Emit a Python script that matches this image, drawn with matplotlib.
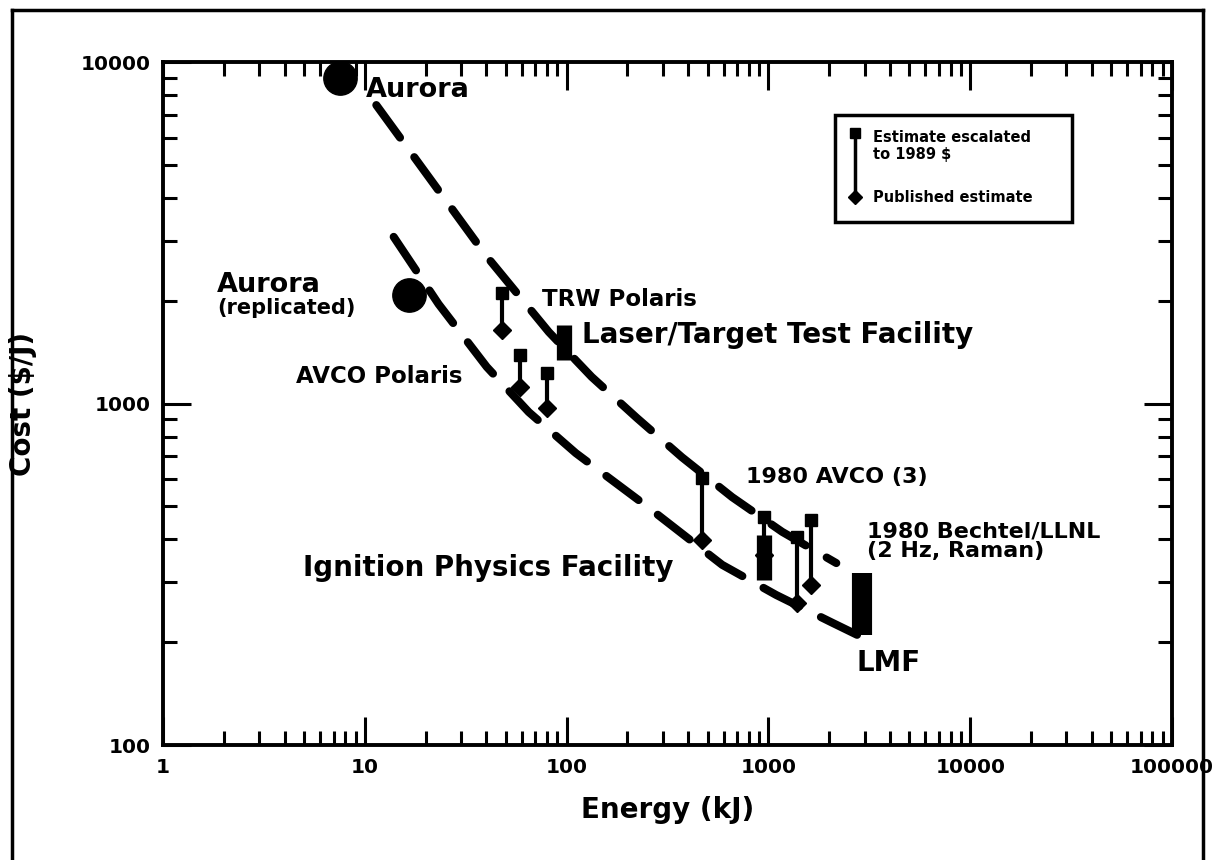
import numpy as np
import matplotlib
matplotlib.use("Agg")
import matplotlib.pyplot as plt
from matplotlib.patches import Rectangle
from matplotlib.lines import Line2D

# dashed trend curves (energy kJ, cost $/J)
upper_x = [11.4, 39.7, 81.6, 133, 223, 373, 661, 1170, 2170]
upper_y = [7480, 2720, 1620, 1197, 907, 696, 532, 421, 341]
lower_x = [13.9, 23.2, 40.2, 64.9, 111, 250, 590, 1093, 2075, 2760]
lower_y = [3076, 1955, 1280, 944, 716, 500, 337, 275, 228, 210]

# Aurora points
aurora_x = [7.5, 16.5]
aurora_y = [9000, 2080]

# cost estimates: escalated (top) and published (bottom)
est_x = [48, 58.6, 79.7, 469, 953, 1390, 1633]
est_hi = [2107, 1387, 1228, 605, 466, 406, 456]
est_lo = [1640, 1117, 970, 398, 360, 261, 295]

# facilities: LTTF, IPF, LMF
fac_x = [97, 953, 2920]
fac_lo = [1340, 305, 210]
fac_hi = [1700, 412, 319]

x_ticks = [1, 10, 100, 1000, 10000, 100000]
y_ticks = [100, 1000, 10000]

plt.rcParams["font.family"] = ["DejaVu Sans"]
plt.rcParams["font.weight"] = "bold"

fig = plt.figure(figsize=(12.13, 8.6), dpi=100)
ax = fig.add_axes([0.1344, 0.1337, 0.8318, 0.7942])
ax.set_xscale("log")
ax.set_yscale("log")
ax.set_xlim(1, 100000)
ax.set_ylim(100, 10000)

lw = 5.8
for xs, ys in [(upper_x, upper_y), (lower_x, lower_y)]:
    ax.plot(xs, ys, color="black", lw=lw, dashes=(5.0, 3.0),
            solid_capstyle="butt", dash_capstyle="round")

ax.plot(aurora_x, aurora_y, "o", color="black", ms=24, zorder=5)

for x, hi, lo in zip(est_x, est_hi, est_lo):
    ax.plot([x, x], [lo, hi], color="black", lw=3, zorder=4)
    ax.plot(x, hi, "s", color="black", ms=8, zorder=4)
    ax.plot(x, lo, "D", color="black", ms=9, zorder=4)

for x, lo, hi, w in zip(fac_x, fac_lo, fac_hi, [11, 11, 14.5]):
    ax.plot([x, x], [lo, hi], color="black", lw=w, solid_capstyle="butt", zorder=6)

tk = dict(ha="left", va="center", fontweight="bold")
ax.text(10.1, 8280, "Aurora", fontsize=19.5, **tk)
ax.text(1.85, 2223, "Aurora", fontsize=19.5, **tk)
ax.text(1.85, 1905, "(replicated)", fontsize=15, **tk)
ax.text(75.3, 2010, "TRW Polaris", fontsize=16.5, **tk)
ax.text(119, 1587, "Laser/Target Test Facility", fontsize=20, **tk)
ax.text(4.57, 1196, "AVCO Polaris", fontsize=16.5, **tk)
ax.text(776, 609, "1980 AVCO (3)", fontsize=16, **tk)
ax.text(3097, 396, "1980 Bechtel/LLNL\n(2 Hz, Raman)", fontsize=16,
        linespacing=0.95, **tk)
ax.text(4.96, 330, "Ignition Physics Facility", fontsize=20, **tk)
ax.text(2729, 174, "LMF", fontsize=20, **tk)

# legend box
ax.add_patch(Rectangle((0.666, 0.766), 0.235, 0.156, transform=ax.transAxes,
                       fill=False, lw=2.5, ec="black", zorder=7))
ax.add_line(Line2D([0.686, 0.686], [0.802, 0.896], transform=ax.transAxes,
                   color="black", lw=2.5, zorder=7))
ax.plot(0.686, 0.896, "s", color="black", ms=7, transform=ax.transAxes, zorder=7)
ax.plot(0.686, 0.802, "D", color="black", ms=7, transform=ax.transAxes, zorder=7)
ax.text(0.704, 0.877, "Estimate escalated\nto 1989 $", transform=ax.transAxes,
        fontsize=10.5, ha="left", va="center", linespacing=1.1)
ax.text(0.704, 0.802, "Published estimate", transform=ax.transAxes,
        fontsize=10.5, ha="left", va="center")

ax.set_xticks(x_ticks)
ax.set_xticklabels([str(v) for v in x_ticks])
ax.set_yticks(y_ticks)
ax.set_yticklabels([str(v) for v in y_ticks])
ax.tick_params(which="both", direction="in", top=True, right=True, width=2.2)
ax.tick_params(which="major", length=20, labelsize=14.5, pad=9)
ax.tick_params(which="minor", length=10)
for lab in ax.get_xticklabels() + ax.get_yticklabels():
    lab.set_fontweight("bold")
for s in ax.spines.values():
    s.set_linewidth(2.8)

ax.set_xlabel("Energy (kJ)", fontsize=20, fontweight="bold", labelpad=14)
ax.set_ylabel("Cost ($/J)", fontsize=20, fontweight="bold")
ax.yaxis.set_label_coords(-0.125, 0.5)

# outer frame of the figure
for xs, ys in [([0.010, 0.010], [-0.1, 0.988]), ([0.010, 0.992], [0.988, 0.988]),
               ([0.992, 0.992], [0.988, -0.1])]:
    fig.add_artist(Line2D(xs, ys, transform=fig.transFigure, color="black", lw=2.5))

fig.savefig("out.png", dpi=100, facecolor="white")
